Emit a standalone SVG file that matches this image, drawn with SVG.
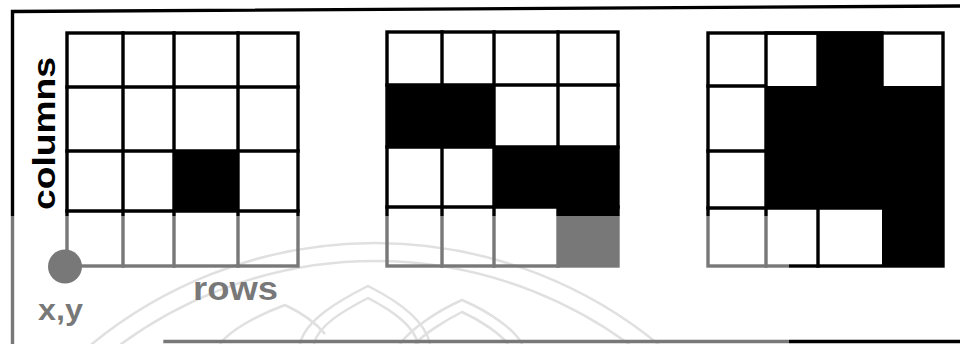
<svg xmlns="http://www.w3.org/2000/svg" width="960" height="344" viewBox="0 0 960 344">
<style>
.ln{stroke:#000;stroke-width:3.4;fill:none;stroke-linecap:square}
.blk{fill:#000}
.wm{stroke:#c4c4c4;stroke-width:2.5;fill:none}
.lbl{font-family:"Liberation Sans",Arial,sans-serif;font-weight:bold;fill:#000}
</style>
<rect width="960" height="344" fill="#fff"/>
<g id="watermark">
<circle class="wm" cx="375" cy="690" r="447"/>
<circle class="wm" cx="375" cy="690" r="429"/>
<path class="wm" d="M300,344 C305,320 340,300 368,286 C396,300 425,320 430,344"/>
<path class="wm" d="M314,344 C318,325 345,310 368,298 C391,310 414,325 418,344"/>
<path class="wm" d="M400,344 C410,330 435,312 462,300 C490,312 515,330 522,344"/>
<path class="wm" d="M415,344 C424,334 444,321 462,312 C482,321 500,334 508,344"/>
<path class="wm" d="M220,344 C230,330 258,315 285,305 C300,312 315,322 325,334"/>
</g>
<g id="frame">
<polyline class="ln" points="960,6 12.5,11.5 12.5,343" stroke-width="3.5"/>
<line class="ln" x1="165" y1="341.5" x2="960" y2="341.5" stroke-width="3.5"/>
</g>
<g id="grid1">
<rect class="blk" x="174" y="151" width="64" height="60"/>
<rect class="ln" x="67" y="33" width="231" height="233"/>
<path class="ln" d="M123,33V266M174,33V266M238,33V266M67,87H298M67,151H298M67,211H298"/>
</g>
<g id="grid2">
<rect class="blk" x="387" y="85" width="107" height="62"/>
<rect class="blk" x="494" y="147" width="124" height="60"/>
<rect class="blk" x="558" y="207" width="60" height="59"/>
<rect class="ln" x="387" y="32" width="231" height="234"/>
<path class="ln" d="M442,32V266M494,32V266M558,32V266M387,85H618M387,147H618M387,207H618"/>
</g>
<g id="grid3">
<rect class="blk" x="818" y="33" width="64" height="53"/>
<rect class="blk" x="766" y="86" width="177" height="122"/>
<rect class="blk" x="882" y="208" width="61" height="58"/>
<rect class="ln" x="708" y="33" width="235" height="233"/>
<path class="ln" d="M766,33V266M818,208V266M818,33V86M882,33V86M708,86H766M708,151H766M708,208H882M766,33H882"/>
</g>
<g id="origin">
<circle cx="65" cy="266.5" r="17" fill="#000"/>
</g>
<g id="labels">
<text class="lbl" font-size="32" transform="translate(55,210) rotate(-90)" textLength="153" lengthAdjust="spacingAndGlyphs">columns</text>
<text class="lbl" x="193" y="300" font-size="33" textLength="85" lengthAdjust="spacingAndGlyphs">rows</text>
<text class="lbl" x="38" y="320" font-size="29" textLength="45" lengthAdjust="spacingAndGlyphs">x,y</text>
</g>
<rect id="wash" x="0" y="216" width="789" height="128" fill="#fff" fill-opacity="0.47"/>
</svg>
